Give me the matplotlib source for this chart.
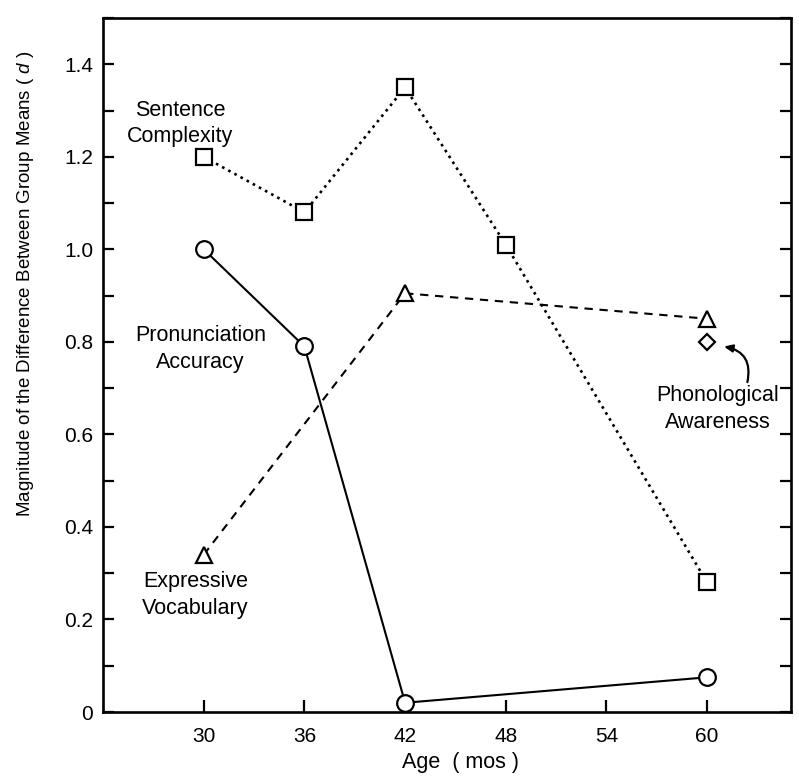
import numpy as np
import matplotlib.pyplot as plt
from matplotlib.ticker import MultipleLocator, FuncFormatter

plt.rcParams['font.family'] = ['Liberation Sans', 'DejaVu Sans']
plt.rcParams['mathtext.fontset'] = 'custom'
plt.rcParams['mathtext.it'] = 'Liberation Sans:italic'

# age in months
sent_age = [30, 36, 42, 48, 60]
sent_d = [1.20, 1.08, 1.35, 1.01, 0.28]

pron_age = [30, 36, 42, 60]
pron_d = [1.00, 0.79, 0.02, 0.075]

expr_age = [30, 42, 60]
expr_d = [0.34, 0.905, 0.85]

phon_age = [60]
phon_d = [0.80]

x_ticks = [30, 36, 42, 48, 54, 60]
y_ticks = [0, 0.2, 0.4, 0.6, 0.8, 1.0, 1.2, 1.4]

fig = plt.figure(figsize=(7.99, 7.82), dpi=100)
ax = fig.add_axes([0.129, 0.0895, 0.861, 0.8875])

ms = 11
mew = 1.6
lw = 1.5

ax.plot(sent_age, sent_d, linestyle=':', color='black', lw=lw + 0.4,
        marker='s', ms=ms, mfc='white', mec='black', mew=mew)
ax.plot(pron_age, pron_d, linestyle='-', color='black', lw=lw,
        marker='o', ms=ms + 1, mfc='white', mec='black', mew=mew)
line, = ax.plot(expr_age, expr_d, color='black', lw=lw,
                marker='^', ms=ms, mfc='white', mec='black', mew=mew)
line.set_dashes((4.0, 3.2))
ax.plot(phon_age, phon_d, linestyle='none',
        marker='D', ms=8, mfc='white', mec='black', mew=mew)

fs = 15.5
ls = 1.35
ax.text(28.6, 1.272, 'Sentence\nComplexity', ha='center', va='center',
        fontsize=fs, linespacing=ls)
ax.text(29.8, 0.784, 'Pronunciation\nAccuracy', ha='center', va='center',
        fontsize=fs, linespacing=ls)
ax.text(29.5, 0.253, 'Expressive\nVocabulary', ha='center', va='center',
        fontsize=fs, linespacing=ls)
ax.text(60.65, 0.655, 'Phonological\nAwareness', ha='center', va='center',
        fontsize=fs, linespacing=ls)
ax.annotate('', xy=(61.0, 0.79), xytext=(62.4, 0.713),
            arrowprops=dict(arrowstyle='-|>,head_length=0.5,head_width=0.22',
                            connectionstyle='arc3,rad=0.5', color='black',
                            lw=1.6, shrinkA=0, shrinkB=0))

ax.set_xlim(24, 65)
ax.set_ylim(0, 1.5)
ax.set_xticks(x_ticks)
ax.set_yticks(y_ticks)
ax.yaxis.set_minor_locator(MultipleLocator(0.1))
ax.yaxis.set_major_formatter(FuncFormatter(lambda v, p: '0' if v == 0 else f'{v:.1f}'))

ax.tick_params(axis='both', which='both', direction='in', width=1.6,
               labelsize=15, color='black')
ax.tick_params(axis='y', which='both', length=8, pad=7, right=True)
ax.tick_params(axis='x', which='major', length=9, pad=11)

for s in ax.spines.values():
    s.set_linewidth(1.9)

ax.set_xlabel('Age  ( mos )', fontsize=15.5)
ax.xaxis.set_label_coords(0.52, -0.058)
fig.text(0.032, 1 - 284 / 782,
         'Magnitude of the Difference Between Group Means ( $d$ )',
         rotation=90, ha='center', va='center', fontsize=13.5)

fig.savefig('out.png', dpi=100)
